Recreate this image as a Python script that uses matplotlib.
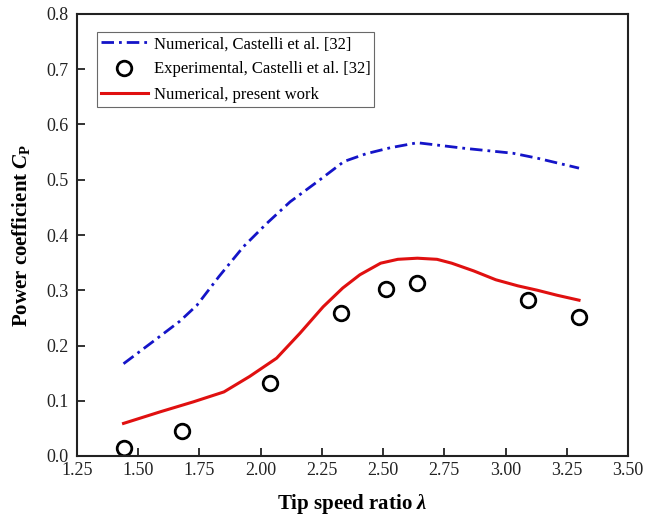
import matplotlib.pyplot as plt

plt.rcParams['font.family'] = 'Liberation Serif'
plt.rcParams['mathtext.fontset'] = 'custom'
plt.rcParams['mathtext.rm'] = 'Liberation Serif'
plt.rcParams['mathtext.it'] = 'Liberation Serif:italic'
plt.rcParams['mathtext.bf'] = 'Liberation Serif:bold'
plt.rcParams['mathtext.bfit'] = 'Liberation Serif:bold:italic'

# Castelli et al. numerical
tsr_num = [1.44, 1.56, 1.67, 1.74, 1.83, 1.93, 2.025, 2.12, 2.23, 2.34,
           2.43, 2.53, 2.64, 2.83, 3.03, 3.13, 3.30]
cp_num = [0.167, 0.207, 0.244, 0.273, 0.325, 0.379, 0.421, 0.460, 0.496, 0.533,
          0.547, 0.558, 0.567, 0.557, 0.548, 0.539, 0.521]

# Castelli et al. experimental
tsr_exp = [1.44, 1.68, 2.04, 2.33, 2.51, 2.64, 3.09, 3.30]
cp_exp = [0.015, 0.046, 0.133, 0.259, 0.302, 0.314, 0.282, 0.252]

# present work
tsr_cfd = [1.44, 1.59, 1.725, 1.85, 1.955, 2.065, 2.16, 2.255, 2.335, 2.405,
           2.49, 2.56, 2.64, 2.72, 2.78, 2.87, 2.96, 3.05, 3.13, 3.21, 3.30]
cp_cfd = [0.059, 0.080, 0.098, 0.116, 0.144, 0.177, 0.222, 0.270, 0.304, 0.328,
          0.349, 0.356, 0.358, 0.356, 0.349, 0.335, 0.319, 0.308, 0.300, 0.291, 0.282]

fig = plt.figure(figsize=(6.45, 5.21), dpi=100)
ax = fig.add_axes([77 / 645, 65 / 521, 551 / 645, 442 / 521])

ax.plot(tsr_num, cp_num, color='#1414c8', lw=2, dashes=(4.5, 1.8, 1, 1.8),
        label='Numerical, Castelli et al. [32]')
ax.plot(tsr_exp, cp_exp, 'o', mfc='none', mec='black', mew=2, ms=10.5,
        label='Experimental, Castelli et al. [32]')
ax.plot(tsr_cfd, cp_cfd, color='#e01010', lw=2.2, label='Numerical, present work')

ax.set_xlim(1.25, 3.5)
ax.set_ylim(0, 0.8)
ax.set_xticks([1.25 + 0.25 * i for i in range(10)])
ax.set_yticks([0.1 * i for i in range(9)])
ax.set_xticklabels(['%.2f' % (1.25 + 0.25 * i) for i in range(10)])
ax.set_yticklabels(['%.1f' % (0.1 * i) for i in range(9)])
ax.tick_params(direction='in', length=6, width=1.3, labelsize=13, colors='#222222',
               top=False, right=False)
ax.tick_params(axis='x', pad=4)
ax.tick_params(axis='y', pad=6)
for s in ax.spines.values():
    s.set_linewidth(1.5)
    s.set_color('#222222')

ax.set_xlabel(r'Tip speed ratio $\mathbfit{\lambda}$', fontsize=15, fontweight='bold', labelpad=10)
ax.set_ylabel(r'Power coefficient $\mathbfit{C}_\mathbf{P}$', fontsize=15,
              fontweight='bold', labelpad=10)

leg = ax.legend(loc='upper left', bbox_to_anchor=(0.036, 0.959), fontsize=12,
                frameon=True, fancybox=False, edgecolor='#444444', handlelength=2.8,
                borderpad=0.25, labelspacing=0.55, handletextpad=0.35, borderaxespad=0)
leg.get_frame().set_linewidth(0.8)

fig.savefig('out.png', dpi=100)
